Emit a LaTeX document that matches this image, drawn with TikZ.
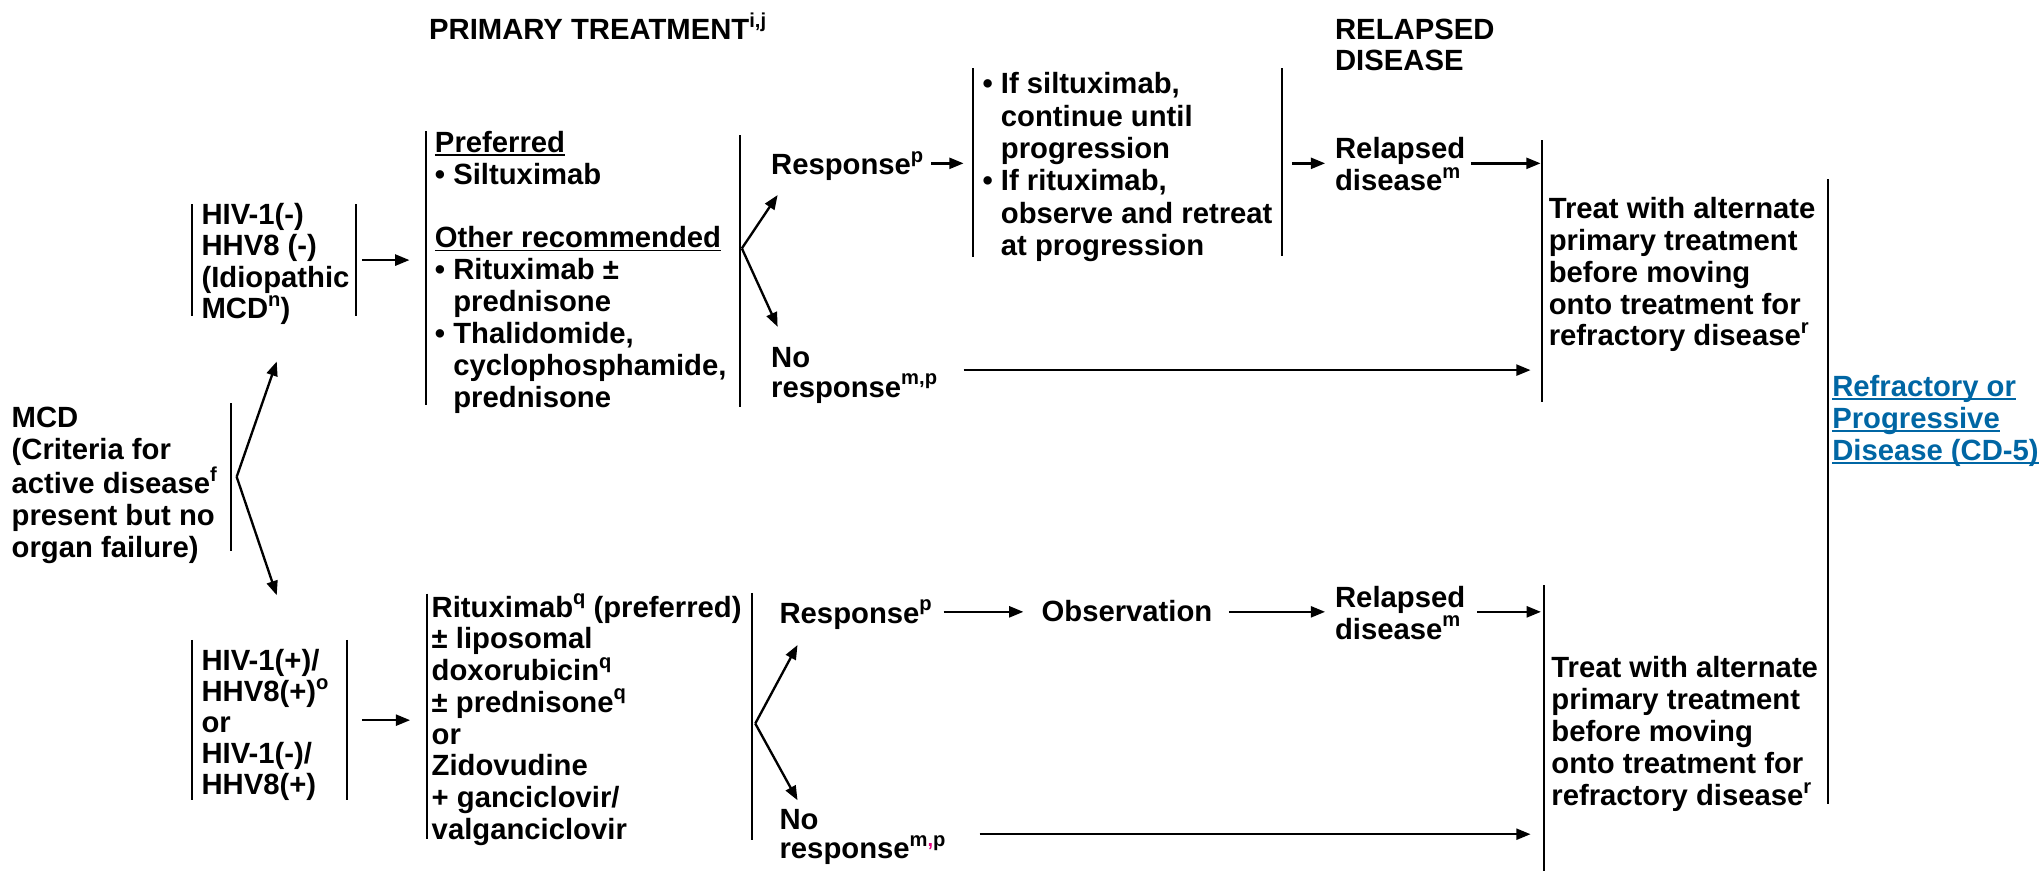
\documentclass[tikz,border=0pt]{standalone}
\usepackage{fontspec}
\setmainfont{Liberation Sans}
\usetikzlibrary{arrows.meta}
\definecolor{linkblue}{RGB}{0,102,164}
\definecolor{pinkc}{RGB}{230,0,126}
\newcommand\myul[1]{\setbox0\hbox{#1}\rlap{\rule[-2.8pt]{\wd0}{1.4pt}}\box0}
\newcommand\fs{\rule{0pt}{18pt}}
\newcommand\bul{\textbullet\ }
\newcommand\ind{\phantom{\textbullet\ }}
\newcommand\sups[1]{\raisebox{9.5pt}{\fontsize{15.5}{15.5}\selectfont #1}}
\tikzset{
  txt/.style={inner sep=0pt, outer sep=0pt, align=left, anchor=north west,
    font=\bfseries\fontsize{22.5}{24.5}\selectfont},
  one/.style={inner sep=0pt, outer sep=0pt, anchor=base west,
    font=\bfseries\fontsize{22.5}{24.5}\selectfont},
  bar/.style={line width=1.5pt},
  arr/.style={line width=1.8pt, -{Triangle[length=11pt,width=8.5pt]}}
}
\begin{document}
\begin{tikzpicture}[x=1pt,y=-1pt]
\useasboundingbox (0,0) rectangle (1568,670);
% headings
\node[one] (title) at (330,30.7) {PRIMARY TREATMENT\sups{i,j}};
\node[txt, font=\bfseries\fontsize{22.5}{23.6}\selectfont] (relhead) at (1026.7,12.6) {\fs RELAPSED\\DISEASE};
% top branch
\node[txt, font=\bfseries\fontsize{22.5}{24.2}\selectfont] (hivA) at (155,154.6) {\fs HIV-1(-)\\HHV8 (-)\\(Idiopathic\\MCD\sups{n})};
\node[txt] (treatA) at (334.5,99) {\fs\myul{Preferred}\\\bul Siltuximab\\[24.5pt]\myul{Other recommended}\\\bul Rituximab ±\\\ind prednisone\\\bul Thalidomide,\\\ind cyclophosphamide,\\\ind prednisone};
\node[one] (respA) at (593,134.5) {Response\sups{p}};
\node[txt, font=\bfseries\fontsize{22.5}{24.9}\selectfont] (contA) at (755.6,54) {\fs\bul If siltuximab,\\\ind continue until\\\ind progression\\\bul If rituximab,\\\ind observe and retreat\\\ind at progression};
\node[txt] (relA) at (1026.7,104) {\fs Relapsed\\disease\sups{m}};
\node[txt] (altA) at (1191,150) {\fs Treat with alternate\\primary treatment\\before moving\\onto treatment for\\refractory disease\sups{r}};
\node[txt, font=\bfseries\fontsize{22.5}{23}\selectfont] (noA) at (593,264.4) {\fs No\\response\sups{m,p}};
\node[txt, text=linkblue] (refr) at (1409,287) {\fs\myul{Refractory or}\\\myul{Progressive}\\\myul{Disease (CD-5)}};
% root
\node[txt] (mcd) at (9,310.5) {\fs MCD\\(Criteria for\\active disease\sups{f}\\present but no\\organ failure)};
% bottom branch
\node[txt, font=\bfseries\fontsize{22.5}{23.8}\selectfont] (hivB) at (155,497.7) {\fs HIV-1(+)/\\HHV8(+)\sups{o}\\or\\HIV-1(-)/\\HHV8(+)};
\node[txt, font=\bfseries\fontsize{22.5}{24.36}\selectfont] (treatB) at (332,456.7) {\fs Rituximab\sups{q} (preferred)\\± liposomal\\doxorubicin\sups{q}\\± prednisone\sups{q}\\or\\Zidovudine\\+ ganciclovir/\\valganciclovir};
\node[one] (respB) at (599.5,479.3) {Response\sups{p}};
\node[one] (obs) at (801,478.3) {Observation};
\node[txt] (relB) at (1026.7,449) {\fs Relapsed\\disease\sups{m}};
\node[txt, font=\bfseries\fontsize{22.5}{24.65}\selectfont] (altB) at (1193,503) {\fs Treat with alternate\\primary treatment\\before moving\\onto treatment for\\refractory disease\sups{r}};
\node[txt, font=\bfseries\fontsize{22.5}{23}\selectfont] (noB) at (599.5,619.5) {\fs No\\response\sups{m{\color{pinkc},}p}};
% bars
\draw[bar] (147.4,157) -- (147.4,243);
\draw[bar] (273.8,157) -- (273.8,243);
\draw[bar] (327.5,101) -- (327.5,311.5);
\draw[bar] (569,104) -- (569,313);
\draw[bar] (748,52.6) -- (748,197.4);
\draw[bar] (985.8,52.6) -- (985.8,197);
\draw[bar] (1186,107.7) -- (1186,309);
\draw[bar] (1406,137.7) -- (1406,618);
\draw[bar] (177.7,310) -- (177.7,424);
\draw[bar] (147.4,492) -- (147.4,615.4);
\draw[bar] (266.7,492) -- (266.7,615.4);
\draw[bar] (328,456.4) -- (328,644.8);
\draw[bar] (578.5,456) -- (578.5,646);
\draw[bar] (1187,450) -- (1187,670);
% connector end points
\coordinate (mcdfork) at (182,366.7);
\coordinate (toA) at (212.8,278);
\coordinate (toB) at (212.8,457.7);
\coordinate (hivAout) at (278.2,200);
\coordinate (treatAin) at (314.9,200);
\coordinate (forkA) at (570.5,191);
\coordinate (respAin) at (598,150);
\coordinate (noAin) at (598,251.3);
\coordinate (respAout) at (716,125.6);
\coordinate (contAin) at (741,125.6);
\coordinate (contAout) at (993.5,125.6);
\coordinate (relAin) at (1019,125.6);
\coordinate (relAout) at (1131,125.6);
\coordinate (altAin) at (1184.7,125.6);
\coordinate (noAout) at (741,284.6);
\coordinate (altAin2) at (1177,284.6);
\coordinate (hivBout) at (278.2,553.8);
\coordinate (treatBin) at (315.4,553.8);
\coordinate (forkB) at (580.8,556.4);
\coordinate (respBin) at (613.3,496);
\coordinate (noBin) at (613.3,615.4);
\coordinate (respBout) at (725.6,470.5);
\coordinate (obsin) at (787,470.5);
\coordinate (obsout) at (945,470.5);
\coordinate (relBin) at (1019,470.5);
\coordinate (relBout) at (1136,470.5);
\coordinate (altBin) at (1185,470.5);
\coordinate (noBout) at (753.3,641.5);
\coordinate (altBin2) at (1177,641.5);
% arrows
\draw[arr] (mcdfork) -- (toA);
\draw[arr] (mcdfork) -- (toB);
\draw[arr] (hivAout) -- (treatAin);
\draw[arr] (forkA) -- (respAin);
\draw[arr] (forkA) -- (noAin);
\draw[arr] (respAout) -- (contAin);
\draw[arr] (contAout) -- (relAin);
\draw[arr] (relAout) -- (altAin);
\draw[arr] (noAout) -- (altAin2);
\draw[arr] (hivBout) -- (treatBin);
\draw[arr] (forkB) -- (respBin);
\draw[arr] (forkB) -- (noBin);
\draw[arr] (respBout) -- (obsin);
\draw[arr] (obsout) -- (relBin);
\draw[arr] (relBout) -- (altBin);
\draw[arr] (noBout) -- (altBin2);
\end{tikzpicture}
\end{document}
